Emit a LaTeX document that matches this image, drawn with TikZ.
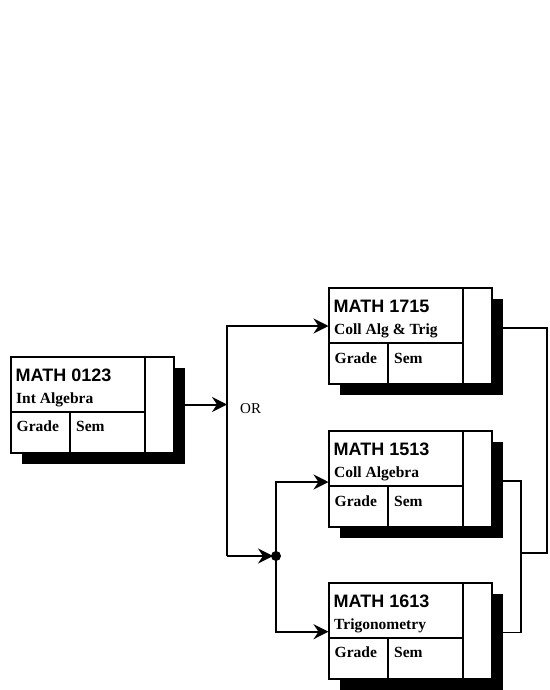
\documentclass[tikz,border=0pt]{standalone}
\usepackage{fontspec}
\setmainfont{Liberation Serif}
\setsansfont{Liberation Sans}
\usetikzlibrary{arrows.meta,shadows}
\tikzset{
  course/.style   = {shape=rectangle, draw, line width=2pt, fill=white,
                     inner sep=0pt, outer sep=0pt, anchor=north west,
                     minimum width=163pt, minimum height=96pt,
                     drop shadow={shadow xshift=11pt, shadow yshift=-11pt,
                                  fill=black, opacity=1}},
  crsnum/.style   = {anchor=base west, inner sep=0pt,
                     font=\sffamily\bfseries\fontsize{18}{20}\selectfont},
  crstitle/.style = {anchor=base west, inner sep=0pt,
                     font=\bfseries\fontsize{15.5}{17}\selectfont},
  cell/.style     = {crstitle},
  link/.style     = {draw, line width=2pt},
  merge/.style    = {draw, line width=1.4pt},
  tip/.style      = {-{Stealth[length=15pt, width=15pt, inset=5pt]}}
}
\begin{document}
\begin{tikzpicture}[x=1pt, y=-1pt]
  \useasboundingbox (0,0) rectangle (549,690);

  \foreach \nm/\px/\py/\num/\title in {
      c0123/10.5/356.5/0123/Int Algebra,
      c1715/328.5/288/1715/Coll Alg \& Trig,
      c1513/328.5/431/1513/Coll Algebra,
      c1613/328.5/582.7/1613/Trigonometry}
  {
    \node [course] (\nm) at (\px,\py) {};
    \draw [line width=2pt]
      ([xshift=134.5pt]\nm.north west) -- ([xshift=134.5pt]\nm.south west)
      ([yshift=-55pt]\nm.north west) -- ([xshift=134.5pt,yshift=-55pt]\nm.north west)
      ([xshift=59pt,yshift=-55pt]\nm.north west) -- ([xshift=59pt]\nm.south west);
    \node [crsnum]   (\nm-num)   at ([xshift=5pt,yshift=-24.5pt]\nm.north west) {MATH \num};
    \node [crstitle] (\nm-title) at ([xshift=5.5pt,yshift=-46.5pt]\nm.north west) {\title};
    \node [cell]     (\nm-grade) at ([xshift=6pt,yshift=-75pt]\nm.north west) {Grade};
    \node [cell]     (\nm-sem)   at ([xshift=65.5pt,yshift=-75pt]\nm.north west) {Sem};
  }

  \coordinate (orTop)  at (227,326);
  \coordinate (orBot)  at (227,556);
  \coordinate (fork)   at (276,556);
  \coordinate (split)  at (227,404.5);
  \coordinate (joinT)  at (547,336);
  \coordinate (joinB)  at (521,553);

  \draw [link, tip] ([xshift=11pt]c0123.east) -- (split);
  \node [anchor=base west, inner sep=0pt, font=\fontsize{15}{17}\selectfont]
    (or) at (240,413) {OR};

  \draw [link, tip] (orBot) -- (orTop) -- ([yshift=10pt]c1715.west);
  \draw [link, tip] (orBot) -- ([xshift=-3pt]fork);
  \fill (fork) circle (5pt);
  \draw [link, tip] (fork) |- ([yshift=-3pt]c1513.west);
  \draw [link, tip] (fork) |- ([yshift=-1pt]c1613.west);

  \draw [merge] ([xshift=11pt,yshift=8pt]c1715.east) -| (joinT) |- (joinB);
  \draw [merge] ([xshift=11pt,yshift=-2pt]c1513.east) -| (joinB)
               |- ([xshift=11pt,yshift=-2pt]c1613.east);
\end{tikzpicture}
\end{document}
